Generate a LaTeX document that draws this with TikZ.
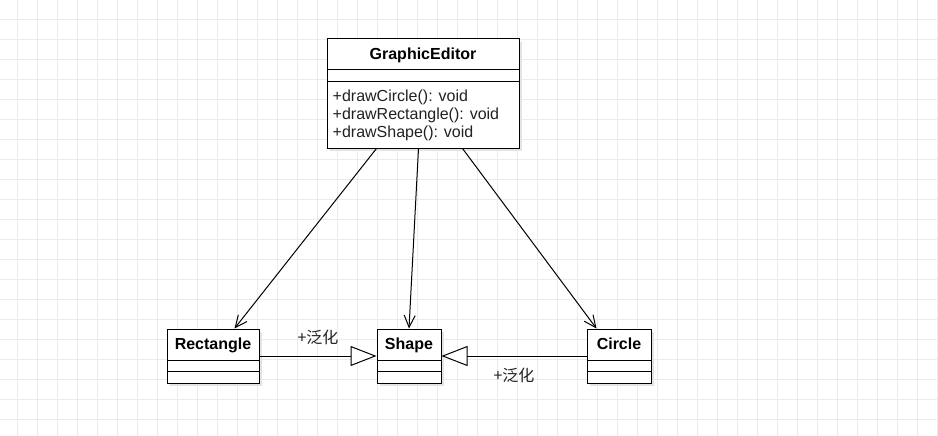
\documentclass[tikz,border=0pt]{standalone}
\usepackage{fontspec}
\setmainfont{Liberation Sans}
\newfontfamily\cjk{Noto Sans CJK SC}
\usepackage{tikz}
\usepackage{xcolor}
\usetikzlibrary{arrows.meta,calc,shadows}
\definecolor{ink}{HTML}{000000}
\definecolor{soft}{HTML}{222222}
\definecolor{gridcol}{HTML}{EBEBEB}
\definecolor{shade}{HTML}{E4E4E4}
\tikzset{
  classbox/.style={draw=ink,fill=white,line width=1pt,inner sep=0pt,
                   drop shadow={shadow xshift=3pt,shadow yshift=-3pt,fill=shade,opacity=1}},
  classname/.style={font=\fontsize{16}{18}\selectfont\bfseries,text=ink,inner sep=0pt},
  members/.style={font=\fontsize{16}{18}\selectfont,text=soft,align=left,inner sep=0pt},
  depend/.style={-{Straight Barb[length=12pt,width=11pt]},line width=1pt,draw=ink},
  general/.style={-{Triangle[length=26pt,width=20pt,fill=white]},line width=1pt,draw=ink},
  tag/.style={font=\cjk\fontsize{16}{18}\selectfont,text=soft,inner sep=0pt},
  gridrule/.style={draw=gridcol,line width=0.8pt}
}

\begin{document}
\begin{tikzpicture}[x=1pt,y=-1pt]
  \useasboundingbox (0,0) rectangle (938,436);
  \fill[white] (0,0) rectangle (938,436);
  \foreach \gx in {17,37,...,937} \draw[gridrule] (\gx,0) -- (\gx,436);
  \foreach \gy in {19,39,...,419} \draw[gridrule] (0,\gy) -- (938,\gy);

  \node[classbox,minimum width=192pt,minimum height=109pt] (ge) at (423,93.5) {};
  \node[classbox,minimum width=92pt,minimum height=54pt] (rect) at (213,356) {};
  \node[classbox,minimum width=64pt,minimum height=54pt] (shape) at (409,356) {};
  \node[classbox,minimum width=64pt,minimum height=54pt] (circ) at (619,356) {};

  \foreach \n/\a/\b in {ge/31.5/43.3,rect/32/43,shape/32/43,circ/32/43} {
    \draw[line width=1pt] ($(\n.north west)+(0,\a)$) -- ($(\n.north east)+(0,\a)$);
    \draw[line width=1pt] ($(\n.north west)+(0,\b)$) -- ($(\n.north east)+(0,\b)$);
  }

  \node[classname,anchor=base] (geName) at ($(ge.north)+(0,21)$) {GraphicEditor};
  \node[classname,anchor=base] (rectName) at ($(rect.north)+(0,21)$) {Rectangle};
  \node[classname,anchor=base] (shapeName) at ($(shape.north)+(0,21)$) {Shape};
  \node[classname,anchor=base] (circName) at ($(circ.north)+(0,21)$) {Circle};
  \node[members,anchor=north west] (geOps) at ($(ge.north west)+(6,51)$)
    {+drawCircle(): void\\+drawRectangle(): void\\+drawShape(): void};

  \draw[depend] ($(ge.south west)+(50,0)$) -- ($(rect.north west)+(68,0)$);
  \draw[depend] ($(ge.south west)+(92,0)$) -- (shape.north);
  \draw[depend] ($(ge.south west)+(136,0)$) -- ($(circ.north west)+(10,0)$);

  \draw[general] (rect.east) -- (shape.west) node[tag,midway,yshift=19pt] {+泛化};
  \draw[general] (circ.west) -- (shape.east) node[tag,midway,yshift=-19pt] {+泛化};
\end{tikzpicture}
\end{document}
